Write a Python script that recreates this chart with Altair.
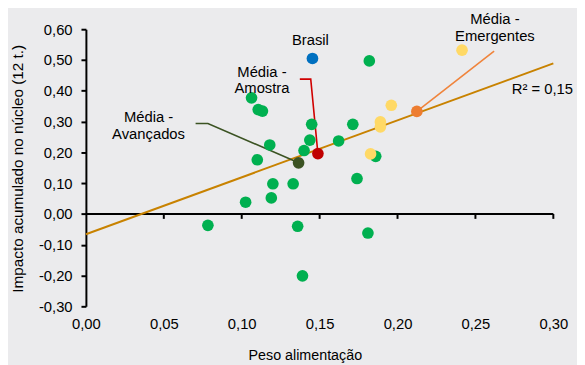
import altair as alt
import pandas as pd

# ---- data ----
adv_x = [0.1063, 0.1106, 0.1133, 0.1449, 0.1713, 0.1437, 0.1622, 0.1180, 0.1400, 0.1100,
         0.1860, 0.1740, 0.1200, 0.1330, 0.1190, 0.1025, 0.0783, 0.1359, 0.1810, 0.1390, 0.1819]
adv_y = [0.377, 0.339, 0.334, 0.291, 0.291, 0.240, 0.237, 0.224, 0.206, 0.176,
         0.187, 0.115, 0.098, 0.098, 0.052, 0.038, -0.037, -0.040, -0.062, -0.201, 0.497]
emg_x = [0.2414, 0.1960, 0.1890, 0.1890, 0.1827]
emg_y = [0.532, 0.353, 0.299, 0.283, 0.195]
brasil_x = [0.1454]
brasil_y = [0.505]
mean_names = ["Média - Amostra", "Média - Avançados", "Média - Emergentes"]
mean_x = [0.1489, 0.1365, 0.2124]
mean_y = [0.196, 0.166, 0.333]
trend_x = [0.0, 0.30]
trend_y = [-0.066, 0.489]
x_ticks = [0.0, 0.05, 0.10, 0.15, 0.20, 0.25, 0.30]
y_ticks = [-0.3, -0.2, -0.1, 0.0, 0.1, 0.2, 0.3, 0.4, 0.5, 0.6]

# leader lines (label anchor -> mean point)
lead_amostra_x = [0.1373, 0.1443, 0.1489]
lead_amostra_y = [0.438, 0.438, 0.196]
lead_avanc_x = [0.0704, 0.0783, 0.1365]
lead_avanc_y = [0.294, 0.294, 0.166]
lead_emerg_x = [0.2620, 0.2124]
lead_emerg_y = [0.529, 0.333]

# annotation texts
ann_text = ["Brasil", "Média -", "Amostra", "Média -", "Avançados", "Média -", "Emergentes", "R² = 0,15"]
ann_x = [0.1441, 0.1130, 0.1130, 0.0402, 0.0402, 0.2625, 0.2625, 0.2930]
ann_y = [0.548, 0.4455, 0.392, 0.299, 0.2426, 0.616, 0.561, 0.388]

# ---- tables ----
groups = (["Avançados"] * len(adv_x) + ["Emergentes"] * len(emg_x) + ["Brasil"]
          + ["Amostra", "Avançados média", "Emergentes média"])
pts = pd.DataFrame({
    "x": adv_x + emg_x + brasil_x + mean_x,
    "y": adv_y + emg_y + brasil_y + mean_y,
    "g": groups,
})
pts["z"] = list(range(len(pts)))
color_dom = ["Avançados", "Emergentes", "Brasil", "Amostra", "Avançados média", "Emergentes média"]
color_rng = ["#00B050", "#FFD966", "#0070C0", "#C00000", "#3B5323", "#ED7D31"]

leads = pd.DataFrame({
    "x": lead_amostra_x + lead_avanc_x + lead_emerg_x,
    "y": lead_amostra_y + lead_avanc_y + lead_emerg_y,
    "l": ["a"] * 3 + ["b"] * 3 + ["c"] * 2,
    "s": [0, 1, 2, 0, 1, 2, 0, 1],
})
trend = pd.DataFrame({"x": trend_x, "y": trend_y})
ticks = pd.DataFrame({"x": x_ticks[1:]})
axis0 = pd.DataFrame({"x": [x_ticks[0]], "x2": [x_ticks[-1]]})
ann = pd.DataFrame({"t": ann_text, "x": ann_x, "y": ann_y})

FONT = "Liberation Sans"
fmt = "replace(replace(format(datum.value, '.2f'), '.', ','), '\u2212', '-')"

xs = alt.Scale(domain=[0, 0.30], nice=False, zero=False)
ys = alt.Scale(domain=[-0.3, 0.6], nice=False, zero=False)

x_axis = alt.Axis(values=x_ticks, labelExpr=fmt, domain=False, ticks=False, grid=False,
                  labelFlush=False, labelOverlap=False,
                  labelPadding=10, labelFontSize=15, labelFont=FONT, labelColor="#000000",
                  title="Peso alimentação", titleFont=FONT, titleFontSize=14.5,
                  titleFontWeight="normal", titleColor="#000000",
                  titleX=222, titleY=54, titleBaseline="alphabetic", titleAlign="center")
y_axis = alt.Axis(values=y_ticks, labelExpr=fmt, domainColor="#000000", domainWidth=2,
                  tickColor="#000000", tickWidth=2, tickSize=5, grid=False,
                  labelFlush=False, labelOverlap=False,
                  labelPadding=9, labelFontSize=15, labelFont=FONT, labelColor="#000000",
                  title="Impacto acumulado no núcleo (12 t.)", titleFont=FONT, titleFontSize=15.5,
                  titleFontWeight="normal", titleColor="#000000", titleAngle=270,
                  titleX=-64, titleY=141, titleBaseline="alphabetic", titleAlign="center")

base_x = alt.X("x:Q", scale=xs, axis=x_axis)
base_y = alt.Y("y:Q", scale=ys, axis=y_axis)
zero_y = alt.Y(datum=0, scale=ys, axis=y_axis, type="quantitative")

zero_line = alt.Chart(axis0).mark_rule(color="#000000", strokeWidth=2).encode(
    x=base_x, x2="x2:Q", y=zero_y)
tick_marks = alt.Chart(ticks).mark_rule(color="#000000", strokeWidth=2).encode(
    x=base_x, y=zero_y, y2=alt.datum(-0.016))
trend_line = alt.Chart(trend).mark_line(color="#C88200", strokeWidth=2).encode(x=base_x, y=base_y)
lead_lines = alt.Chart(leads).mark_line(strokeWidth=1.6).encode(
    x=base_x, y=base_y, order="s:Q",
    color=alt.Color("l:N", scale=alt.Scale(domain=["a", "b", "c"],
                                           range=["#D00000", "#3B5323", "#F0843C"]), legend=None))
points = alt.Chart(pts).mark_circle(size=140, opacity=1).encode(
    x=base_x, y=base_y, order="z:Q",
    color=alt.Color("g:N", scale=alt.Scale(domain=color_dom, range=color_rng), legend=None))
texts = alt.Chart(ann).mark_text(font=FONT, fontSize=15, color="#000000", align="center",
                                 baseline="alphabetic").encode(x=base_x, y=base_y, text="t:N")

chart = alt.layer(zero_line, tick_marks, trend_line, lead_lines, points, texts).properties(
    width=474, height=281,
    autosize=alt.AutoSizeParams(type="none"),
    padding={"left": 79, "top": 19, "right": 24, "bottom": 57},
    background="#EBEBED",
).configure_view(stroke=None).resolve_scale(color="independent")

chart.save("out.html", embed_options={"renderer": "svg", "actions": False})
